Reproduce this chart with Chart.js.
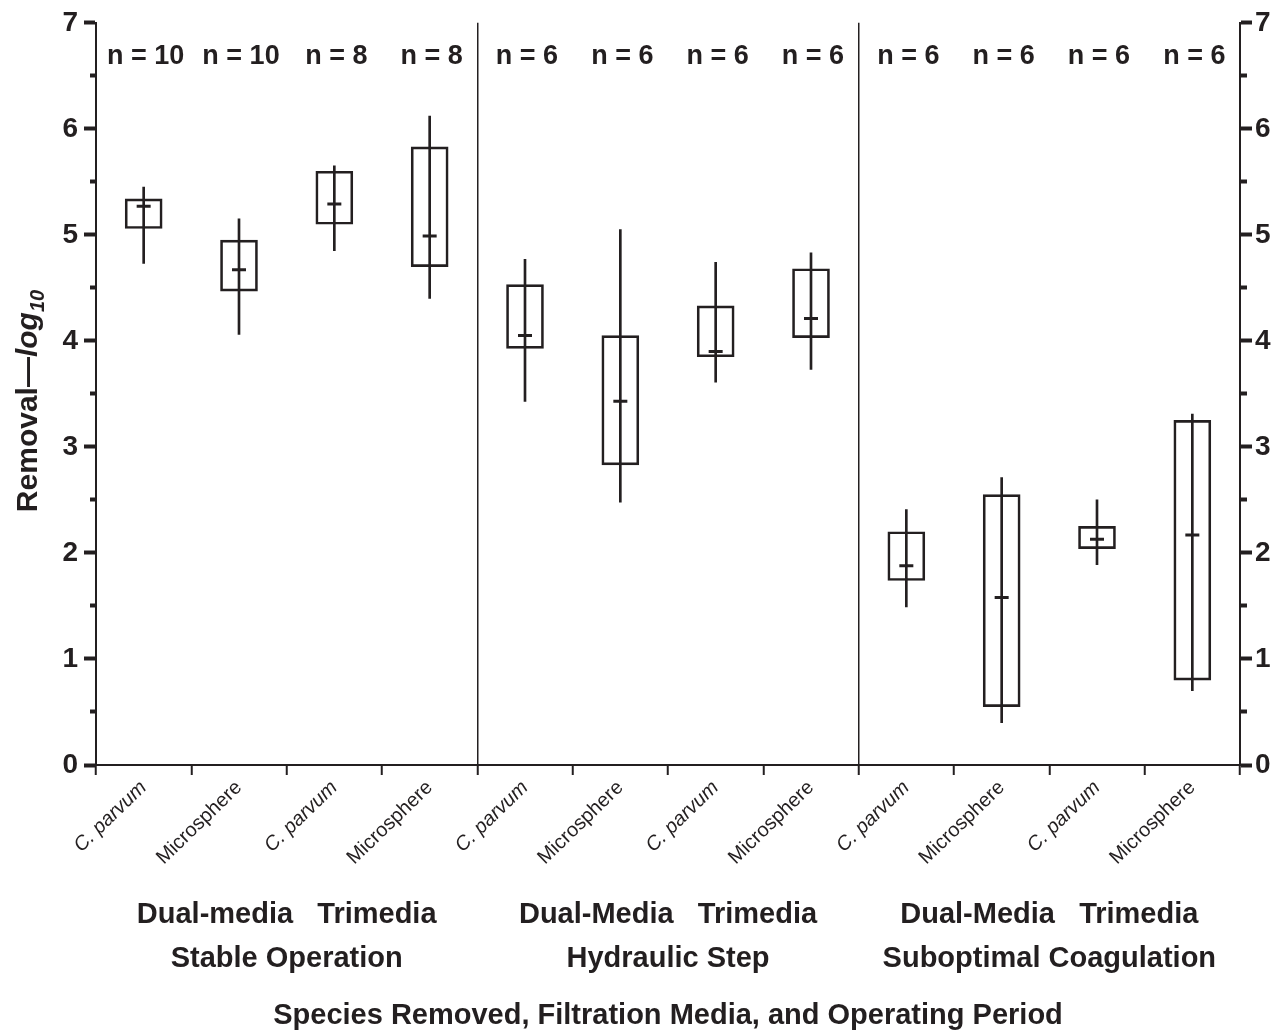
<!DOCTYPE html>
<html>
<head>
<meta charset="utf-8">
<script src="https://cdn.jsdelivr.net/npm/chart.js@4.4.1/dist/chart.umd.min.js"></script>
<style>
  html, body { margin: 0; padding: 0; background: #fff; }
  canvas { display: block; }
</style>
</head>
<body>
<canvas id="chart" width="1278" height="1033"></canvas>
<script>
// Species removed, one entry per box (4 boxes per operating period)
const species = [
  'C. parvum', 'Microsphere', 'C. parvum', 'Microsphere',
  'C. parvum', 'Microsphere', 'C. parvum', 'Microsphere',
  'C. parvum', 'Microsphere', 'C. parvum', 'Microsphere'
];
// Filtration media and operating period, one entry per period
const periodLabels = [
  ['Dual-media   Trimedia', 'Stable Operation'],
  ['Dual-Media   Trimedia', 'Hydraulic Step'],
  ['Dual-Media   Trimedia', 'Suboptimal Coagulation']
];
const sampleCounts = [10, 10, 8, 8, 6, 6, 6, 6, 6, 6, 6, 6];

// Log10 removal statistics
const whiskerLow  = [4.73, 4.06, 4.85, 4.40, 3.43, 2.48, 3.61, 3.73, 1.49, 0.40, 1.89, 0.70];
const boxLow      = [5.06, 4.47, 5.10, 4.70, 3.93, 2.83, 3.85, 4.03, 1.74, 0.55, 2.04, 0.80];
const medians     = [5.27, 4.67, 5.29, 4.99, 4.05, 3.43, 3.90, 4.21, 1.88, 1.58, 2.13, 2.17];
const boxHigh     = [5.34, 4.95, 5.60, 5.83, 4.53, 4.05, 4.33, 4.68, 2.20, 2.55, 2.25, 3.25];
const whiskerHigh = [5.45, 5.15, 5.65, 6.12, 4.77, 5.05, 4.74, 4.83, 2.41, 2.71, 2.50, 3.31];

const yMin = 0, yMax = 7, yStep = 0.5;
const periodBoundaries = [4, 8];

const ink = '#231f20';
const family = '"Liberation Sans", Arial, Helvetica, sans-serif';
Chart.defaults.font.family = family;
Chart.defaults.color = ink;

const isMinor = (ctx) => ctx.tick && !Number.isInteger(ctx.tick.value);

// n-counts above the boxes and the composite y-axis title
const annotations = {
  id: 'annotations',
  afterDraw(chart) {
    const { ctx, chartArea, scales } = chart;
    const x = scales.x;
    ctx.save();
    ctx.fillStyle = ink;
    ctx.font = `bold 27px ${family}`;
    ctx.textAlign = 'center';
    ctx.textBaseline = 'middle';
    sampleCounts.forEach((n, i) => {
      ctx.fillText(`n = ${n}`, x.getPixelForValue(i) + 2, chartArea.top + 34);
    });

    // "Removal—log10" with italic log and subscript 10
    const parts = [
      { text: 'Removal\u2014', font: `bold 30px ${family}`, dy: 0 },
      { text: 'log', font: `italic bold 30px ${family}`, dy: 0 },
      { text: '10', font: `italic bold 20px ${family}`, dy: 7 }
    ];
    let total = 0;
    parts.forEach(p => { ctx.font = p.font; p.w = ctx.measureText(p.text).width; total += p.w; });
    ctx.translate(37, 401);
    ctx.rotate(-Math.PI / 2);
    ctx.textAlign = 'left';
    ctx.textBaseline = 'alphabetic';
    let pos = -total / 2;
    parts.forEach(p => {
      ctx.font = p.font;
      ctx.fillText(p.text, pos, p.dy);
      pos += p.w;
    });
    ctx.restore();
  }
};

const yAxis = (position, width, dash, dashOffset, padding) => ({
  type: 'linear',
  position,
  min: yMin,
  max: yMax,
  border: { display: true, color: ink, width: 2 },
  grid: {
    drawOnChartArea: false,
    drawTicks: true,
    tickLength: 12,
    tickWidth: 4,
    tickColor: ink,
    tickBorderDash: (ctx) => isMinor(ctx) ? dash : [],
    tickBorderDashOffset: (ctx) => isMinor(ctx) ? dashOffset : 0
  },
  ticks: {
    stepSize: yStep,
    autoSkip: false,
    padding,
    color: ink,
    font: { size: 28, weight: 'bold' },
    callback: (v) => Number.isInteger(v) ? String(v) : ''
  },
  afterFit: (scale) => { scale.width = width; }
});

new Chart(document.getElementById('chart'), {
  type: 'bar',
  data: {
    labels: species,
    datasets: [
      {
        label: 'Median',
        type: 'line',
        data: medians,
        showLine: false,
        pointStyle: 'line',
        pointRadius: 7,
        pointBorderWidth: 3,
        borderColor: ink,
        backgroundColor: ink
      },
      {
        label: 'Range',
        data: whiskerLow.map((lo, i) => [lo, whiskerHigh[i]]),
        grouped: false,
        barThickness: 2,
        backgroundColor: ink,
        borderWidth: 0
      },
      {
        label: 'Interquartile',
        data: boxLow.map((lo, i) => [lo, boxHigh[i]]),
        grouped: false,
        barThickness: 37,
        backgroundColor: 'rgba(255,255,255,0)',
        borderColor: ink,
        borderWidth: 2,
        borderSkipped: false
      }
    ]
  },
  options: {
    responsive: false,
    animation: false,
    events: [],
    layout: { padding: { top: 21, left: 0, right: 0, bottom: 0 } },
    plugins: {
      legend: { display: false },
      tooltip: { enabled: false }
    },
    scales: {
      x: {
        type: 'category',
        position: 'bottom',
        weight: 0,
        offset: true,
        border: { display: true, color: ink, width: 2 },
        grid: {
          offset: true,
          drawOnChartArea: true,
          color: (ctx) => periodBoundaries.includes(ctx.index) ? ink : 'rgba(0,0,0,0)',
          lineWidth: 1.5,
          tickColor: ink,
          tickLength: 10,
          tickWidth: 2
        },
        ticks: {
          autoSkip: false,
          minRotation: 44,
          maxRotation: 44,
          padding: 1,
          color: ink,
          font: (ctx) => ({
            size: 20,
            style: ctx.index % 2 === 0 ? 'italic' : 'normal'
          })
        },
        afterFit: (scale) => { scale.height = 125; }
      },
      periods: {
        type: 'category',
        position: 'bottom',
        weight: 1,
        offset: true,
        labels: periodLabels,
        border: { display: false },
        grid: { display: false, drawTicks: false },
        ticks: {
          autoSkip: false,
          maxRotation: 0,
          padding: 3,
          color: ink,
          font: { size: 29, weight: 'bold', lineHeight: 1.52 }
        },
        title: {
          display: true,
          text: 'Species Removed, Filtration Media, and Operating Period',
          color: ink,
          font: { size: 29, weight: 'bold' },
          padding: { top: 0, bottom: 0 }
        },
        afterFit: (scale) => { scale.height = 143; }
      },
      y: yAxis('left', 96, [6, 6], 6, 6),
      yRight: yAxis('right', 38, [6, 100], 0, 3)
    }
  },
  plugins: [annotations]
});
</script>
</body>
</html>
